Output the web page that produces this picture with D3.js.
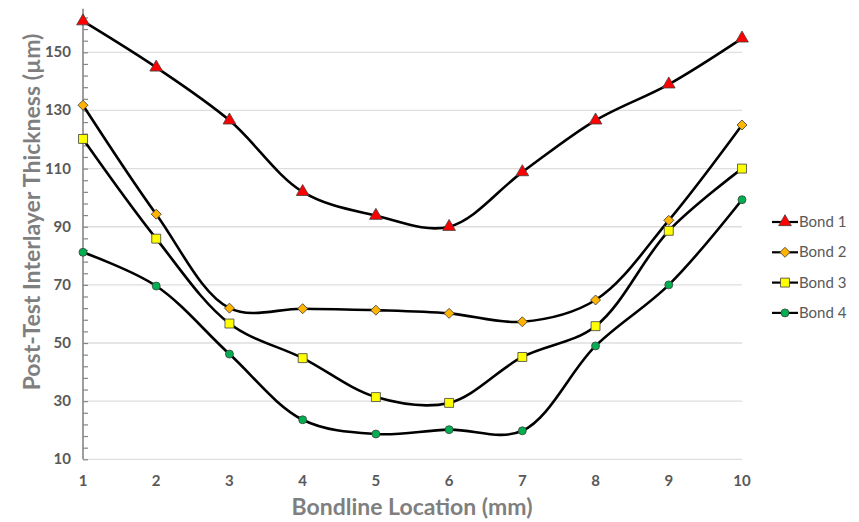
<!DOCTYPE html>
<html>
<head>
<meta charset="utf-8">
<script src="https://cdn.jsdelivr.net/npm/d3@7"></script>
<style>
  body { margin: 0; background: #fff; }
  text { font-family: Lato, "Open Sans", sans-serif; }
</style>
</head>
<body>
<svg id="chart" width="859" height="522"></svg>
<script>
var locations = [1, 2, 3, 4, 5, 6, 7, 8, 9, 10]
var bond1 = [160.7, 144.8, 126.6, 102, 93.8, 90, 108.8, 126.6, 139, 154.8]
var bond2 = [131.8, 94.3, 62, 61.8, 61.3, 60.2, 57.3, 64.8, 92.2, 125]
var bond3 = [120.2, 85.9, 56.7, 44.8, 31.4, 29.4, 45.2, 55.8, 88.6, 110]
var bond4 = [81.2, 69.6, 46.2, 23.6, 18.7, 20.2, 19.8, 49, 70, 99.3]
var seriesNames = ["Bond 1", "Bond 2", "Bond 3", "Bond 4"]
var yTicks = [10, 30, 50, 70, 90, 110, 130, 150]

// diamond = square turned 45 degrees, like the spreadsheet marker
var styles = [
    {shape: d3.symbolTriangle, size: 70, fill: "#ff0000", rot: 0},
    {shape: d3.symbolSquare, size: 50, fill: "#ffb400", rot: 45},
    {shape: d3.symbolSquare, size: 80, fill: "#ffff00", rot: 0},
    {shape: d3.symbolCircle, size: 50, fill: "#00b050", rot: 0}
]
var allSeries = [bond1, bond2, bond3, bond4]

var svg = d3.select("#chart")
var x = d3.scaleLinear().domain([1, 10]).range([83, 742])
var y = d3.scaleLinear().domain([10, 165]).range([459.3, 8.7])

// gridlines
svg.append("g").selectAll("line").data(yTicks).join("line")
    .attr("x1", 83).attr("x2", 742)
    .attr("y1", d => y(d)).attr("y2", d => y(d))
    .attr("stroke", "#dedede").attr("stroke-width", 1.3)

// y axis line + minor ticks on the inside
var yAxis = svg.append("g").attr("transform", "translate(83,0)")
    .call(d3.axisRight(y).tickValues(d3.range(10, 165, 4)).tickSize(5).tickFormat(""))
yAxis.select(".domain").attr("d", "M0," + y(165) + "V" + y(10))
    .attr("stroke", "#868686").attr("stroke-width", 1.6)
yAxis.selectAll(".tick line").attr("stroke", "#868686").attr("stroke-width", 1.2)

// y tick labels
svg.append("g").selectAll("text").data(yTicks).join("text")
    .attr("x", 71).attr("y", d => y(d) + 5)
    .attr("text-anchor", "end")
    .attr("font-size", 15).attr("font-weight", "bold").attr("fill", "#595959")
    .text(d => d)

// x tick labels
svg.append("g").selectAll("text").data(locations).join("text")
    .attr("x", d => x(d)).attr("y", 486)
    .attr("text-anchor", "middle")
    .attr("font-size", 15).attr("font-weight", "bold").attr("fill", "#595959")
    .text(d => d)

// axis titles
svg.append("text")
    .attr("transform", "translate(40,212) rotate(-90)")
    .attr("text-anchor", "middle")
    .attr("font-size", 23).attr("font-weight", "bold").attr("fill", "#7f7f7f")
    .text("Post-Test Interlayer Thickness (µm)")
svg.append("text")
    .attr("x", 412).attr("y", 515)
    .attr("text-anchor", "middle")
    .attr("font-size", 23).attr("font-weight", "bold").attr("fill", "#7f7f7f")
    .text("Bondline Location (mm)")

var line = d3.line()
    .x((d, i) => x(locations[i]))
    .y(d => y(d))
    .curve(d3.curveCatmullRom.alpha(0.5))

function marker(k) {
    return d3.symbol().type(styles[k].shape).size(styles[k].size)()
}

allSeries.forEach(function(vals, k) {
    var g = svg.append("g")
    g.append("path").datum(vals)
        .attr("d", line)
        .attr("fill", "none").attr("stroke", "#000").attr("stroke-width", 2.6)
    g.selectAll("path.m").data(vals).join("path")
        .attr("class", "m")
        .attr("transform", (d, i) => "translate(" + x(locations[i]) + "," + y(d) + ") rotate(" + styles[k].rot + ")")
        .attr("d", marker(k))
        .attr("fill", styles[k].fill).attr("stroke", "#404040").attr("stroke-width", 0.8)
})

// legend
var legend = svg.append("g").selectAll("g").data(seriesNames).join("g")
    .attr("transform", (d, i) => "translate(772," + (222 + i * 30.3) + ")")
legend.append("line")
    .attr("x1", 0).attr("x2", 26).attr("y1", 0).attr("y2", 0)
    .attr("stroke", "#000").attr("stroke-width", 2.2)
legend.append("path")
    .attr("transform", (d, i) => "translate(13,0) rotate(" + styles[i].rot + ")")
    .attr("d", (d, i) => marker(i))
    .attr("fill", (d, i) => styles[i].fill).attr("stroke", "#404040").attr("stroke-width", 0.8)
legend.append("text")
    .attr("x", 27).attr("y", 5)
    .attr("font-size", 15).attr("fill", "#595959")
    .text(d => d)
</script>
</body>
</html>
